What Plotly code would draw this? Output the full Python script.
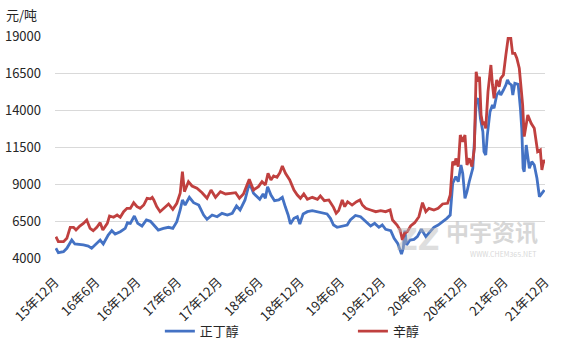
import plotly.graph_objects as go

# ---- data ----
butanol_dates = [
    "2015-12-05","2015-12-16","2016-01-08","2016-01-23","2016-02-14","2016-02-28","2016-04-06","2016-04-28",
    "2016-05-13","2016-05-28","2016-06-20","2016-07-04","2016-07-26","2016-08-11","2016-08-26","2016-09-18",
    "2016-10-10","2016-10-20","2016-11-02","2016-11-20","2016-12-05","2016-12-24","2017-01-13","2017-01-31",
    "2017-02-15","2017-03-07","2017-03-30","2017-04-22","2017-05-11","2017-05-29","2017-06-13","2017-06-23",
    "2017-07-05","2017-07-24","2017-08-12","2017-09-04","2017-09-26","2017-10-11","2017-11-03","2017-11-25",
    "2017-12-17","2018-01-10","2018-02-01","2018-02-20","2018-03-08","2018-03-30","2018-04-19","2018-05-07",
    "2018-06-04","2018-06-19","2018-06-29","2018-07-09","2018-07-24","2018-08-09","2018-08-28","2018-09-13",
    "2018-09-27","2018-10-09","2018-10-19","2018-11-04","2018-11-19","2018-11-30","2018-12-15","2019-01-03",
    "2019-01-25","2019-02-17","2019-03-09","2019-04-01","2019-04-16","2019-04-30","2019-05-16","2019-06-08",
    "2019-06-30","2019-07-14","2019-08-06","2019-08-29","2019-09-21","2019-10-13","2019-10-31","2019-11-19",
    "2019-12-04","2019-12-19","2020-01-11","2020-01-26","2020-02-11","2020-02-28","2020-03-07","2020-03-14",
    "2020-03-22","2020-04-06","2020-04-24","2020-05-09","2020-05-27","2020-06-16","2020-07-05","2020-07-22",
    "2020-08-10","2020-08-30","2020-09-18","2020-10-03","2020-10-14","2020-10-28","2020-11-08","2020-11-20",
    "2020-11-28","2020-12-08","2020-12-17","2020-12-27","2021-01-12","2021-01-19","2021-01-27","2021-02-06",
    "2021-02-15","2021-02-26","2021-03-03","2021-03-11","2021-03-18","2021-03-30","2021-04-10","2021-04-17",
    "2021-04-29","2021-05-10","2021-05-17","2021-05-29","2021-06-09","2021-06-16","2021-06-24","2021-07-04",
    "2021-07-10","2021-07-19","2021-08-03","2021-08-13","2021-08-19","2021-08-25","2021-08-30","2021-09-08",
    "2021-09-15","2021-09-22","2021-10-03","2021-10-14","2021-10-26","2021-11-06","2021-11-17","2021-11-28",
]
butanol_values = [
    4655,4360,4430,4655,5215,4945,4880,4810,
    4655,4880,5215,4945,5555,5845,5620,5780,
    6000,6385,6340,6840,6340,6160,6570,6480,
    6230,5890,6000,6075,6000,6455,7245,7920,
    7580,8100,7735,7580,6905,6615,6905,6790,
    7020,6905,7020,7515,7245,7920,9090,8370,
    7965,8325,8035,8820,8255,7875,7920,8100,
    7425,6905,6300,6680,6790,6300,6975,7130,
    7200,7130,7020,6975,6680,6230,6075,6160,
    6230,6570,6875,6790,6455,6160,6340,6075,
    6230,5940,5845,5330,4990,4270,4655,5845,
    4880,5215,5260,5440,5940,5440,5780,6075,
    6230,6455,6680,6905,9045,9495,9155,10285,
    9720,8035,8480,9155,10060,11860,14565,14790,
    13440,12535,11185,10960,12310,13885,14340,14115,
    15015,15240,15015,15350,15690,16030,15800,15690,
    15015,15800,15735,14115,12760,10060,9830,11635,
    10735,10060,10510,10285,9385,8140,8370,8595,
]

octanol_dates = [
    "2015-12-05","2015-12-16","2016-01-08","2016-01-23","2016-02-07","2016-02-22","2016-03-04","2016-03-21",
    "2016-04-06","2016-04-21","2016-05-06","2016-05-20","2016-06-05","2016-06-20","2016-07-02","2016-07-12",
    "2016-07-22","2016-08-01","2016-08-19","2016-09-04","2016-09-18","2016-10-03","2016-10-18","2016-11-02",
    "2016-11-17","2016-12-02","2016-12-16","2017-01-01","2017-01-16","2017-01-31","2017-02-08","2017-02-15",
    "2017-02-28","2017-03-15","2017-04-07","2017-04-22","2017-05-11","2017-05-29","2017-06-13","2017-06-23",
    "2017-07-02","2017-07-20","2017-08-05","2017-08-27","2017-09-19","2017-10-11","2017-10-29","2017-11-18",
    "2017-12-10","2018-01-02","2018-01-24","2018-02-16","2018-03-05","2018-03-23","2018-04-18","2018-05-07",
    "2018-05-29","2018-06-14","2018-06-29","2018-07-11","2018-07-24","2018-08-05","2018-08-20","2018-09-02",
    "2018-09-13","2018-09-27","2018-10-16","2018-11-04","2018-11-19","2018-12-03","2018-12-18","2019-01-03",
    "2019-01-25","2019-02-17","2019-03-02","2019-03-20","2019-04-09","2019-04-30","2019-05-12","2019-05-23",
    "2019-06-08","2019-06-19","2019-07-02","2019-07-22","2019-08-11","2019-08-26","2019-09-06","2019-09-21",
    "2019-10-13","2019-11-05","2019-11-27","2019-12-19","2020-01-08","2020-01-19","2020-02-08","2020-02-22",
    "2020-03-03","2020-03-13","2020-03-25","2020-04-09","2020-04-27","2020-05-16","2020-06-01","2020-06-16",
    "2020-06-30","2020-07-22","2020-08-10","2020-08-30","2020-09-21","2020-10-03","2020-10-14","2020-10-24",
    "2020-10-28","2020-11-08","2020-11-17","2020-11-28","2020-12-08","2020-12-17","2020-12-27","2021-01-08",
    "2021-01-19","2021-01-27","2021-02-04","2021-02-11","2021-02-18","2021-02-26","2021-03-03","2021-03-11",
    "2021-03-21","2021-04-03","2021-04-10","2021-04-17","2021-04-29","2021-05-10","2021-05-17","2021-05-29",
    "2021-06-09","2021-06-19","2021-07-01","2021-07-09","2021-07-19","2021-07-28","2021-08-08","2021-08-16",
    "2021-08-23","2021-08-30","2021-09-15","2021-09-30","2021-10-14","2021-10-29","2021-11-10","2021-11-17",
    "2021-11-26","2021-12-01",
]
octanol_values = [
    5440,5100,5100,5330,6075,6075,5890,6160,
    6340,6570,6000,5845,6075,6385,5890,6075,
    6340,6840,6750,6905,6750,7130,7355,7355,
    7735,7470,7355,7580,8035,8000,8100,7920,
    7470,7130,7470,7650,7290,7695,8370,9830,
    8480,9155,8865,8710,8410,8035,8595,8100,
    8480,8325,8370,8410,8035,8325,9315,8595,
    8820,9155,8930,9720,9270,9540,9450,9765,
    10215,9720,9270,8595,8255,8035,8325,7965,
    8100,7965,8190,7875,7920,7425,7020,7200,
    7920,7470,7805,7580,7805,7920,7580,7355,
    7245,7130,7200,7130,7245,6570,6230,5890,
    5215,5670,5780,6160,6385,6790,7735,7130,
    7355,7245,7355,7650,7695,8255,10510,10285,
    10735,10170,12310,11860,12310,10285,10735,10170,
    11410,16590,15915,16250,13660,12985,13210,12760,
    15240,17040,15690,14790,16030,15575,16140,16370,
    17720,18845,18845,17830,17830,17495,16820,15465,
    14340,12200,13660,13100,12760,11185,11300,9945,
    10620,10400,
]

tick_dates = ["2015-12-01","2016-06-01","2016-12-01","2017-06-01","2017-12-01","2018-06-01",
              "2018-12-01","2019-06-01","2019-12-01","2020-06-01","2020-12-01","2021-06-01","2021-12-01"]
tick_labels = ["15年12月","16年6月","16年12月","17年6月","17年12月","18年6月",
               "18年12月","19年6月","19年12月","20年6月","20年12月","21年6月","21年12月"]
y_ticks = [4000, 6500, 9000, 11500, 14000, 16500, 19000]
y_tick_labels = ["4000", "6500", "9000", "11500", "14000", "16500", "19000"]

FONT = "Noto Sans CJK SC"
TXT = "#262626"
fig = go.Figure()
fig.add_trace(go.Scatter(x=butanol_dates, y=butanol_values, name="正丁醇", mode="lines",
                         line=dict(color="#4472C4", width=2.8), legend="legend"))
fig.add_trace(go.Scatter(x=octanol_dates, y=octanol_values, name="辛醇", mode="lines",
                         line=dict(color="#C0403F", width=2.8), legend="legend2"))

leg_common = dict(orientation="h", yanchor="middle", y=-0.33, xanchor="left",
                  font=dict(size=13, color=TXT), itemwidth=30, bgcolor="rgba(0,0,0,0)")

fig.update_layout(
    width=568, height=341,
    margin=dict(l=55, r=23, t=36, b=83, autoexpand=False),
    paper_bgcolor="white", plot_bgcolor="white",
    font=dict(family=FONT, size=13, color=TXT),
    showlegend=True,
    legend=dict(x=0.214, **leg_common),
    legend2=dict(x=0.608, **leg_common),
    xaxis=dict(type="date", range=["2015-12-01", "2021-12-01"], tickmode="array",
               tickvals=tick_dates, ticktext=tick_labels, tickangle=-45, automargin=False,
               showgrid=False, zeroline=False, showline=False, ticks="", ticklabelstandoff=13,
               tickfont=dict(size=13, color=TXT)),
    yaxis=dict(range=[4000, 19000], tickmode="array", tickvals=y_ticks, ticktext=y_tick_labels,
               showgrid=True, gridcolor="#D9D9D9", gridwidth=1, zeroline=False, automargin=False,
               showline=False, ticks="", ticklabelstandoff=13,
               tickfont=dict(size=13, color=TXT)),
)

fig.add_annotation(text="元/吨", xref="paper", yref="paper", x=-0.105, y=1.095,
                   xanchor="left", yanchor="middle", showarrow=False,
                   font=dict(size=13, color=TXT))
# watermark
fig.add_annotation(text="<b>中宇资讯</b>", xref="paper", yref="paper", x=0.99, y=0.12,
                   xanchor="right", yanchor="middle", showarrow=False, opacity=0.55,
                   font=dict(size=23, color="#B8B8B8"))
fig.add_annotation(text="WWW.CHEM365.NET", xref="paper", yref="paper", x=0.985, y=0.02,
                   xanchor="right", yanchor="middle", showarrow=False, opacity=0.55,
                   font=dict(size=7, color="#B8B8B8"))
fig.add_annotation(text="<b>ZZ</b>", xref="paper", yref="paper", x=0.79, y=0.085,
                   xanchor="right", yanchor="middle", showarrow=False, opacity=0.45,
                   font=dict(size=30, color="#B8B8B8", family="DejaVu Sans"))

fig.write_html("out.html")
